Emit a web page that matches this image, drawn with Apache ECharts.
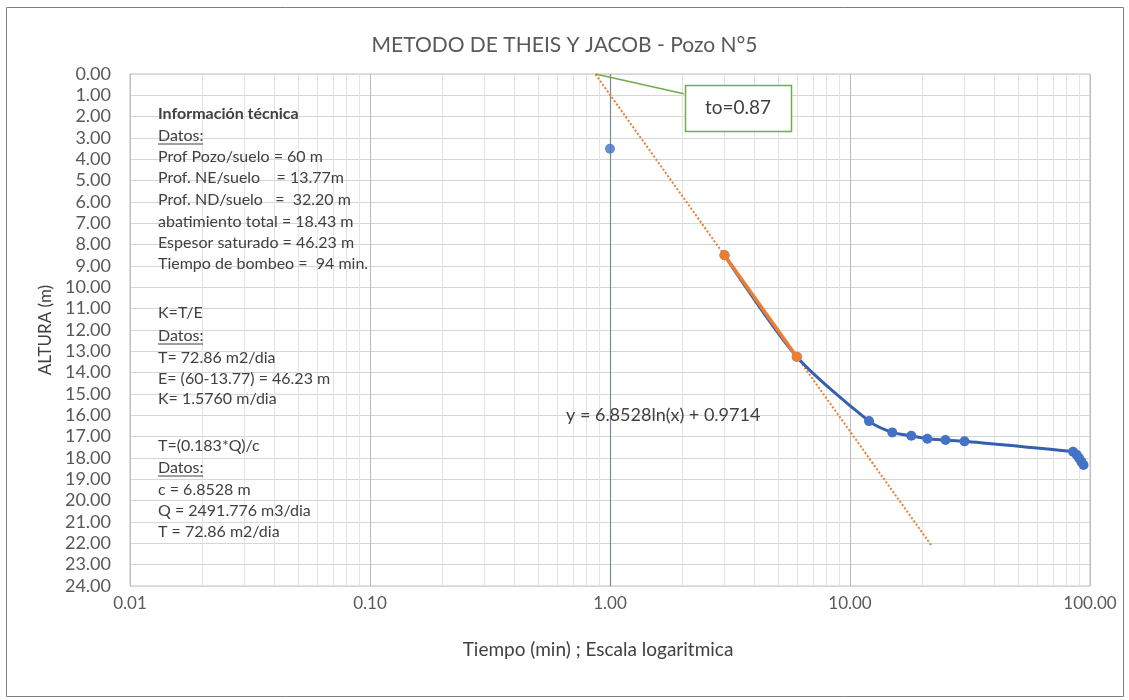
<!DOCTYPE html>
<html>
<head>
<meta charset="utf-8">
<script src="https://cdn.jsdelivr.net/npm/echarts@6/dist/echarts.min.js"></script>
<style>
  html, body { margin: 0; padding: 0; background: #fff; }
  #chart { width: 1129px; height: 700px; }
</style>
</head>
<body>
<div id="chart"></div>
<script>
// Drawdown readings (time in minutes, depth in metres)
const initialTime = [1];
const initialDepth = [3.5];
const pumpTime = [3, 6, 12, 15, 18, 21, 25, 30, 85, 88, 90, 92, 94];
const pumpDepth = [8.5, 13.25, 16.27, 16.8, 16.96, 17.1, 17.16, 17.22, 17.71, 17.85, 18.0, 18.17, 18.33];
// Points used for the Jacob straight-line fit
const fitTime = [3, 6];
const fitDepth = [8.5, 13.25];
// Logarithmic fit y = a*ln(x) + b and its drawn range
const fitA = 6.8528;
const fitB = 0.9714;
const trendRange = [0.87, 22];
const t0Value = 0.87;
// Axis ticks
const xTicks = [0.01, 0.1, 1, 10, 100];
const yMin = 0, yMax = 24, yStep = 1;

const titleText = 'METODO DE THEIS Y JACOB - Pozo N°5';
const xTitle = 'Tiempo (min) ; Escala logaritmica';
const yTitle = 'ALTURA (m)';
const infoLines = [
  'Información técnica',
  'Datos:',
  'Prof Pozo/suelo = 60 m',
  'Prof. NE/suelo    = 13.77m',
  'Prof. ND/suelo   =  32.20 m',
  'abatimiento total = 18.43 m',
  'Espesor saturado = 46.23 m',
  'Tiempo de bombeo =  94 min.',
  'K=T/E',
  'Datos:',
  'T= 72.86 m2/dia',
  'E= (60-13.77) = 46.23 m',
  'K= 1.5760 m/dia',
  'T=(0.183*Q)/c',
  'Datos:',
  'c = 6.8528 m',
  'Q = 2491.776 m3/dia',
  'T = 72.86 m2/dia'
];

const pair = (xs, ys) => xs.map((x, i) => [x, ys[i]]);
const trendData = trendRange.map(x => [x, fitA * Math.log(x) + fitB]);
const eqText = 'y = ' + fitA.toFixed(4) + 'ln(x) + ' + fitB.toFixed(4);

// minor log gridlines (2..9 in each decade)
const minorLines = [];
for (let d = 0; d < xTicks.length - 1; d++) {
  for (let k = 2; k <= 9; k++) minorLines.push({ xAxis: xTicks[d] * k });
}

const FONT = 'Lato, "Noto Sans", sans-serif';
const TXT = '#404040';
const LBL = '#595959';

const chart = echarts.init(document.getElementById('chart'));

// info text block, one line per row
const infoY = [114, 136, 157, 178, 200, 222, 243, 264, 313, 336, 358, 379, 399, 446, 468, 490, 511, 532];
const infoEls = [];
infoLines.forEach((t, i) => {
  infoEls.push({
    type: 'text', id: 'info' + i, x: 158, y: infoY[i], z: 10,
    style: {
      text: t, fill: TXT, verticalAlign: 'middle', align: 'left',
      font: (i === 0 ? 'bold ' : '') + '16px ' + FONT
    }
  });
  if (t === 'Datos:') {
    infoEls.push({
      type: 'line', id: 'ul' + i, z: 10,
      shape: { x1: 158, y1: infoY[i] + 8, x2: 203, y2: infoY[i] + 8 },
      style: { stroke: TXT, lineWidth: 1 }
    });
  }
});

const option = {
  backgroundColor: '#fff',
  animation: false,
  title: {
    text: titleText, left: 'center', top: 30,
    textStyle: { fontFamily: FONT, fontSize: 21, fontWeight: 'normal', color: LBL }
  },
  grid: { left: 130, right: 39, top: 74, bottom: 114, show: true, borderColor: '#bfbfbf', borderWidth: 1 },
  xAxis: {
    type: 'log', logBase: 10, min: 0.01, max: 100,
    axisLine: { show: false }, axisTick: { show: false },
    axisLabel: { fontFamily: FONT, fontSize: 17, color: LBL, margin: 9,
      formatter: v => Number(v).toFixed(2) },
    splitLine: { show: true, lineStyle: { color: '#bdbdbd', width: 1 } }
  },
  yAxis: {
    type: 'value', inverse: true, min: yMin, max: yMax, interval: yStep,
    name: yTitle, nameLocation: 'middle', nameGap: 74,
    nameTextStyle: { fontFamily: FONT, fontSize: 17, color: TXT },
    axisLine: { show: false }, axisTick: { show: false },
    axisLabel: { fontFamily: FONT, fontSize: 18, color: LBL, margin: 19,
      formatter: v => v.toFixed(2) },
    splitLine: { show: true, lineStyle: { color: '#d6d6d6', width: 1 } }
  },
  series: [
    {
      type: 'line', silent: true, data: [], z: 1,
      markLine: {
        z: 0, silent: true, symbol: 'none', label: { show: false },
        lineStyle: { color: '#e3e3e3', type: 'solid', width: 1 },
        data: minorLines
      }
    },
    {
      type: 'line', silent: true, data: [], z: 2,
      markLine: {
        z: 1, silent: true, symbol: 'none', label: { show: false },
        lineStyle: { color: '#7d8796', type: 'solid', width: 1.2 },
        data: [{ xAxis: 1 }]
      }
    },
    {
      name: 'Tendencia', type: 'line', data: trendData, showSymbol: false, z: 3,
      lineStyle: { color: '#ED7D31', width: 2, type: [2, 2] },
      markLine: {
        z: 3, silent: true, symbol: 'none', label: { show: false },
        lineStyle: { color: '#70AD47', width: 1.5, type: 'solid' },
        data: [[{ coord: [t0Value, 0] }, { coord: [2.03, 0.93] }]]
      }
    },
    {
      name: 'Inicial', type: 'scatter', data: pair(initialTime, initialDepth), z: 5,
      symbolSize: 10, itemStyle: { color: '#4472C4' }
    },
    {
      name: 'Bombeo', type: 'line', data: pair(pumpTime, pumpDepth), z: 4,
      smooth: 0.25, symbol: 'circle', symbolSize: 10,
      lineStyle: { color: '#3560b0', width: 3 },
      itemStyle: { color: '#4472C4' }
    },
    {
      name: 'Ajuste', type: 'line', data: pair(fitTime, fitDepth), z: 6,
      symbol: 'circle', symbolSize: 10,
      lineStyle: { color: '#ED7D31', width: 3.5 },
      itemStyle: { color: '#ED7D31' }
    }
  ],
  graphic: [
    {
      type: 'rect', id: 'frame', z: -1, silent: true,
      shape: { x: 6.5, y: 7.5, width: 1117, height: 689 },
      style: { fill: 'none', stroke: '#7f7f7f', lineWidth: 1 }
    },
    {
      type: 'text', id: 'xname', x: 598, y: 650, z: 10,
      style: { text: xTitle, font: '19px ' + FONT, fill: TXT, align: 'center', verticalAlign: 'middle' }
    },
    {
      type: 'rect', id: 't0box', z: 20,
      shape: { x: 685.5, y: 85.5, width: 106, height: 46 },
      style: { fill: '#fff', stroke: '#70AD47', lineWidth: 1.5 }
    },
    {
      type: 'text', id: 't0text', z: 21, x: 738, y: 108,
      style: { text: 'to=' + t0Value.toFixed(2), font: '19px ' + FONT, fill: TXT,
        align: 'center', verticalAlign: 'middle' }
    },
    {
      type: 'text', id: 'eq', x: 566, y: 415, z: 20,
      style: { text: eqText, font: '18px ' + FONT, fill: TXT, verticalAlign: 'middle' }
    }
  ].concat(infoEls)
};
chart.setOption(option);
</script>
</body>
</html>
